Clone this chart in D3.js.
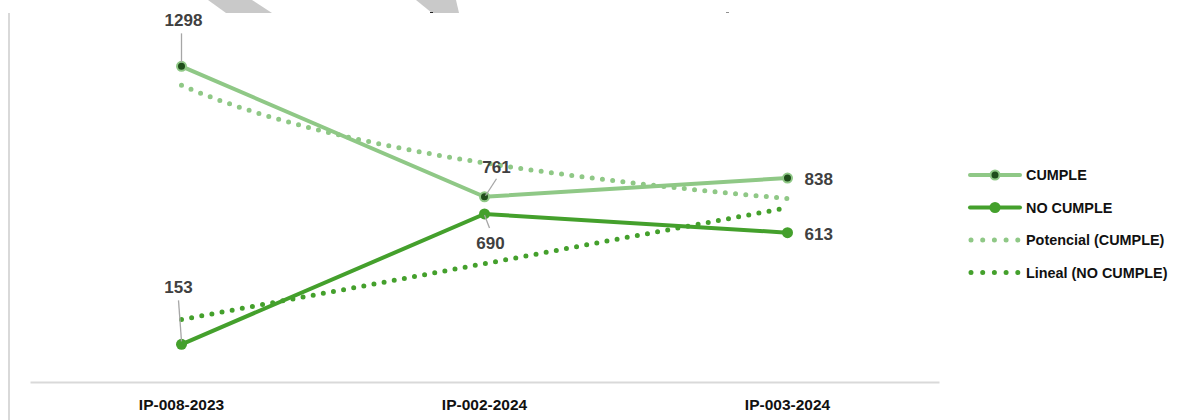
<!DOCTYPE html>
<html><head><meta charset="utf-8">
<script src="https://cdn.jsdelivr.net/npm/d3@7"></script>
<style>body{margin:0;background:#fff;}svg{display:block;font-family:"Liberation Sans",Arial,sans-serif;}</style>
</head><body>
<svg id="c" width="1179" height="420"></svg>
<script>
const categories = ["IP-008-2023", "IP-002-2024", "IP-003-2024"];
const cumple = [1298, 761, 838];
const noCumple = [153, 690, 613];
const legendLabels = ["CUMPLE", "NO CUMPLE", "Potencial (CUMPLE)", "Lineal (NO CUMPLE)"];

const LIGHT = "#8fc886", DARK = "#44a02c", MARK = "#1f4d1b", TXT = "#404040";
const svg = d3.select("#c");

// background decorations at top
svg.append("polygon").attr("points", "208,0 252,0 272,13 226,13").attr("fill", "#c9c9c9");
svg.append("polygon").attr("points", "416,0 456,0 459,13 432,13").attr("fill", "#c9c9c9");
svg.append("rect").attr("x", 430).attr("y", 12).attr("width", 3).attr("height", 2).attr("fill", "#222");
svg.append("rect").attr("x", 726).attr("y", 12.5).attr("width", 3).attr("height", 2).attr("fill", "#222");
svg.append("rect").attr("x", 0).attr("y", 13).attr("width", 1179).attr("height", 407).attr("fill", "#fff");
svg.append("line").attr("x1", 9).attr("x2", 9).attr("y1", 13).attr("y2", 420).attr("stroke", "#d9d9d9").attr("stroke-width", 2);

const x = d3.scaleBand().domain(categories).range([30, 939]);
const cx = c => x(c) + x.bandwidth() / 2;
const y = d3.scaleLinear().domain([0, 1400]).range([381.5, 41.6]);
const xt = d3.scaleLinear().domain([1, 3]).range([cx(categories[0]), cx(categories[2])]);

// axis
const ax = svg.append("g").attr("transform", "translate(0,382)").call(d3.axisBottom(x).tickSize(0).tickPadding(17));
ax.select(".domain").attr("stroke", "#d9d9d9").attr("stroke-width", 2);
ax.selectAll("text").attr("font-size", 15.5).attr("font-weight", "bold").attr("fill", "#111")
  .attr("font-family", "'Liberation Sans', Arial, sans-serif");

// trendlines computed from data
const n = cumple.length;
const ts = d3.range(1, n + 1);
// power fit for CUMPLE
const lx = ts.map(Math.log), ly = cumple.map(Math.log);
const mlx = d3.mean(lx), mly = d3.mean(ly);
const b = d3.sum(lx.map((v, i) => (v - mlx) * (ly[i] - mly))) / d3.sum(lx.map(v => (v - mlx) ** 2));
const a = Math.exp(mly - b * mlx);
const powPts = d3.range(0, 61).map(i => { const t = 1 + 2 * i / 60; return [xt(t), y(a * Math.pow(t, b))]; });
// linear fit for NO CUMPLE
const mt = d3.mean(ts), mv = d3.mean(noCumple);
const s = d3.sum(ts.map((t, i) => (t - mt) * (noCumple[i] - mv))) / d3.sum(ts.map(t => (t - mt) ** 2));
const linPts = [1, 3].map(t => [xt(t), y(mv + s * (t - mt))]);

const line = d3.line();
svg.append("path").attr("d", line(powPts)).attr("fill", "none").attr("stroke", LIGHT)
  .attr("stroke-width", 5).attr("stroke-linecap", "round").attr("stroke-dasharray", "0 10.3");
svg.append("path").attr("d", line(linPts)).attr("fill", "none").attr("stroke", DARK)
  .attr("stroke-width", 5).attr("stroke-linecap", "round").attr("stroke-dasharray", "0 10.3");

// series lines
const sl = d3.line().x((d, i) => cx(categories[i])).y(d => y(d));
svg.append("path").attr("d", sl(cumple)).attr("fill", "none").attr("stroke", LIGHT).attr("stroke-width", 4);
svg.append("path").attr("d", sl(noCumple)).attr("fill", "none").attr("stroke", DARK).attr("stroke-width", 4);

// markers
svg.selectAll(".mc").data(cumple).enter().append("circle")
  .attr("cx", (d, i) => cx(categories[i])).attr("cy", d => y(d)).attr("r", 4.5)
  .attr("fill", MARK).attr("stroke", LIGHT).attr("stroke-width", 2);
svg.selectAll(".mn").data(noCumple).enter().append("circle")
  .attr("cx", (d, i) => cx(categories[i])).attr("cy", d => y(d)).attr("r", 5.5)
  .attr("fill", DARK);

// data labels with leader lines
const labelCfg = [
  {v: cumple[0], i: 0, dx: 2, dy: -40, anchor: "middle", lead: [[0, -4], [0, -33]]},
  {v: cumple[1], i: 1, dx: 12, dy: -24, anchor: "middle", lead: [[1, -1], [12, -18]]},
  {v: cumple[2], i: 2, dx: 17, dy: 7, anchor: "start", lead: null},
  {v: noCumple[0], i: 0, dx: -3, dy: -51, anchor: "middle", lead: [[0, -3], [-3, -44]]},
  {v: noCumple[1], i: 1, dx: 6, dy: 35, anchor: "middle", lead: [[0, 1], [5, 14]]},
  {v: noCumple[2], i: 2, dx: 17, dy: 7, anchor: "start", lead: null}
];
labelCfg.forEach(c => {
  const px = cx(categories[c.i]), py = y(c.v);
  if (c.lead) svg.append("line").attr("x1", px + c.lead[0][0]).attr("y1", py + c.lead[0][1])
    .attr("x2", px + c.lead[1][0]).attr("y2", py + c.lead[1][1]).attr("stroke", "#a6a6a6").attr("stroke-width", 1.3);
  svg.append("text").attr("x", px + c.dx).attr("y", py + c.dy).attr("text-anchor", c.anchor)
    .attr("font-size", 17).attr("font-weight", "bold").attr("fill", TXT).text(c.v);
});

// legend
const lg = svg.append("g");
const rows = [175, 207.5, 240, 272.5];
legendLabels.forEach((lab, k) => {
  const ry = rows[k];
  if (k < 2) {
    lg.append("line").attr("x1", 970).attr("x2", 1020).attr("y1", ry).attr("y2", ry)
      .attr("stroke", k === 0 ? LIGHT : DARK).attr("stroke-width", 4).attr("stroke-linecap", "round");
    if (k === 0) lg.append("circle").attr("cx", 995).attr("cy", ry).attr("r", 4.5).attr("fill", MARK).attr("stroke", LIGHT).attr("stroke-width", 2);
    else lg.append("circle").attr("cx", 995).attr("cy", ry).attr("r", 5.5).attr("fill", DARK);
  } else {
    lg.append("line").attr("x1", 971).attr("x2", 1020).attr("y1", ry).attr("y2", ry)
      .attr("stroke", k === 2 ? LIGHT : DARK).attr("stroke-width", 5).attr("stroke-linecap", "round")
      .attr("stroke-dasharray", "0 11.7");
  }
  lg.append("text").attr("x", 1026).attr("y", ry + 5).attr("font-size", 14.4).attr("font-weight", "bold")
    .attr("fill", "#111").text(lab);
});
</script>
</body></html>
